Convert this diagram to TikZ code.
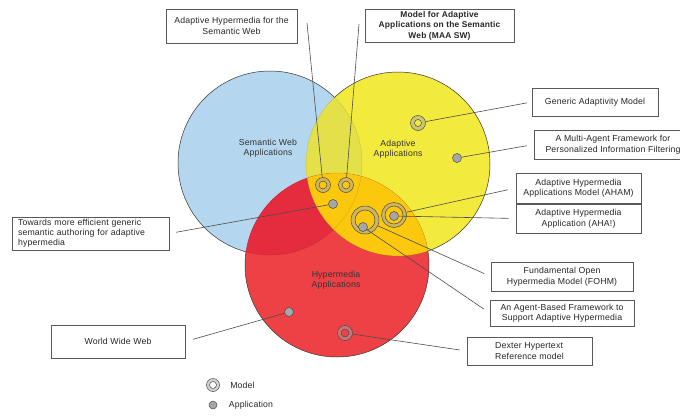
\documentclass[tikz,border=0pt]{standalone}
\usepackage{fontspec}
\setmainfont{Liberation Sans}[LetterSpace=2]
\usepackage{tikz}
\usetikzlibrary{positioning, calc}
\definecolor{swblue}{HTML}{B4D6EE}
\definecolor{adyellow}{HTML}{F2EA3D}
\definecolor{hmred}{HTML}{EE4146}
\definecolor{swad}{HTML}{E3E04A}
\definecolor{swhm}{HTML}{E52C3F}
\definecolor{adhm}{HTML}{FBC80E}
\definecolor{inktext}{HTML}{262626}
% ring marker: name, centre, outer and inner radius
\newcommand{\modelring}[4]{%
  \fill[ringfill] (#2) circle (#3) circle (#4);
  \draw[ringline] (#2) circle (#4);
  \node[model, minimum size=#3*2pt] (#1) at (#2) {};}

\begin{document}
\begin{tikzpicture}[x=1pt, y=-1pt,
    font=\fontsize{8.7}{10.5}\selectfont,
    txtbox/.style={rectangle, draw=black!65, line width=0.7pt, fill=white, align=center, inner sep=2pt, text=inktext},
    setlabel/.style={align=center, text=black!80},
    rim/.style={draw=black!75, line width=0.5pt},
    seam/.style={draw=black, draw opacity=0.12, line width=0.5pt},
    conn/.style={draw=black!70, line width=0.6pt, shorten >=7pt},
    ringfill/.style={fill=black!35, fill opacity=0.5, even odd rule},
    ringline/.style={draw=black!70, line width=0.5pt},
    model/.style={circle, draw=black!70, line width=0.5pt, inner sep=0pt},
    app/.style={circle, draw=black!70, fill=black!35, line width=0.5pt, inner sep=0pt, minimum size=9pt}
]
\useasboundingbox (0,0) rectangle (680,415);

\coordinate (sw) at (270,163);
\coordinate (ad) at (398,164);
\coordinate (hm) at (337,265);

% the three sets
\fill[swblue] (sw) circle (92);
\fill[adyellow] (ad) circle (92);
\fill[hmred] (hm) circle (92);
\begin{scope}
  \clip (sw) circle (92);
  \fill[swad] (ad) circle (92);
  \fill[swhm] (hm) circle (92);
\end{scope}
\begin{scope}
  \clip (ad) circle (92);
  \fill[adhm] (hm) circle (92);
\end{scope}
\draw[seam] (sw) circle (92) (ad) circle (92) (hm) circle (92);
\begin{scope}
  \clip (-50,-50) rectangle (750,500) (ad) circle (92);
  \clip (-50,-50) rectangle (750,500) (hm) circle (92);
  \draw[rim] (sw) circle (92);
\end{scope}
\begin{scope}
  \clip (-50,-50) rectangle (750,500) (sw) circle (92);
  \clip (-50,-50) rectangle (750,500) (hm) circle (92);
  \draw[rim] (ad) circle (92);
\end{scope}
\begin{scope}
  \clip (-50,-50) rectangle (750,500) (sw) circle (92);
  \clip (-50,-50) rectangle (750,500) (ad) circle (92);
  \draw[rim] (hm) circle (92);
\end{scope}

\node[setlabel] (sw-label) at (268,148) {Semantic Web\\Applications};
\node[setlabel] (ad-label) at (398,149) {Adaptive\\Applications};
\node[setlabel] (hm-label) at (336,280) {Hypermedia\\Applications};

% boxes
\node[txtbox, minimum width=131pt, minimum height=34pt] (hsw) at (231.5,26) {Adaptive Hypermedia for the\\Semantic Web};
\node[txtbox, minimum width=149pt, minimum height=33pt, font=\fontsize{8.4}{10.5}\selectfont\bfseries] (maasw) at (439.5,25.5) {Model for Adaptive\\Applications on the Semantic\\Web (MAA SW)};
\node[txtbox, minimum width=126pt, minimum height=28pt] (gam) at (595,102) {Generic Adaptivity Model};
\node[txtbox, minimum width=158pt, minimum height=29pt] (mafp) at (613,144.5) {A Multi-Agent Framework for\\Personalized Information Filtering};
\node[txtbox, minimum width=125pt, minimum height=30pt] (aham) at (578.5,188) {Adaptive Hypermedia\\Applications Model (AHAM)};
\node[txtbox, minimum width=125pt, minimum height=29pt] (aha) at (578.5,218.5) {Adaptive Hypermedia\\Application (AHA!)};
\node[txtbox, minimum width=142pt, minimum height=29pt] (fohm) at (562,276.5) {Fundamental Open\\Hypermedia Model (FOHM)};
\node[txtbox, minimum width=144pt, minimum height=26pt] (abf) at (562,313) {An Agent-Based Framework to\\Support Adaptive Hypermedia};
\node[txtbox, minimum width=125pt, minimum height=28pt, align=left] (dexter) at (529.5,351) {Dexter Hypertext\\Reference model};
\node[txtbox, text width=145pt, inner xsep=6pt, minimum height=33pt, align=left, font=\fontsize{8.7}{10}\selectfont] (tmeg) at (90.5,233.5) {Towards more efficient generic\\semantic authoring for adaptive\\hypermedia};
\node[txtbox, minimum width=134pt, minimum height=33pt] (www) at (118,341.5) {World Wide Web};

\coordinate (hsw-tip) at (307,23);
\coordinate (maasw-tip) at (359,24);

% markers
\modelring{hsw-m}{323,185}{7.5}{4}
\modelring{maasw-m}{346,185}{7.5}{4}
\modelring{gam-m}{418,123}{7.5}{3.5}
\modelring{fohm-m}{365,220}{14}{10}
\modelring{aham-m}{394,215}{12.5}{9}
\modelring{dexter-m}{345,333}{7.5}{4}
\node[app] (tmeg-a) at (333,204) {};
\node[app] (mafp-a) at (457,158) {};
\node[app] (aha-a) at (394,216) {};
\node[app] (abf-a) at (363,227) {};
\node[app] (www-a) at (289,312) {};

% connectors
\draw[conn, shorten >=0pt] (hsw-m) -- (hsw-tip);
\draw[conn, shorten >=0pt] (maasw-m) -- (maasw-tip);
\draw[conn, shorten >=5pt] (gam-m) -- (gam.west);
\draw[conn] (mafp-a) -- (mafp.west);
\draw[conn, shorten >=8pt] (aham-m) -- (aham.west);
\draw[conn] (aha-a) -- (aha.west);
\draw[conn] (fohm-m) -- (fohm.west);
\draw[conn] (abf-a) -- (abf.west);
\draw[conn] (dexter-m) -- (dexter.west);
\draw[conn] (tmeg-a) -- (tmeg.east);
\draw[conn, shorten >=8pt] (www-a) -- (www.east);

% legend
\modelring{lg-model}{213,385}{6.5}{3.5}
\node[app, minimum size=8pt] (lg-app) at (213,405) {};
\node[text=inktext, anchor=west, right=7pt of lg-model] (lg-model-text) {Model};
\node[text=inktext, anchor=west, right=8pt of lg-app] (lg-app-text) {Application};
\end{tikzpicture}
\end{document}
